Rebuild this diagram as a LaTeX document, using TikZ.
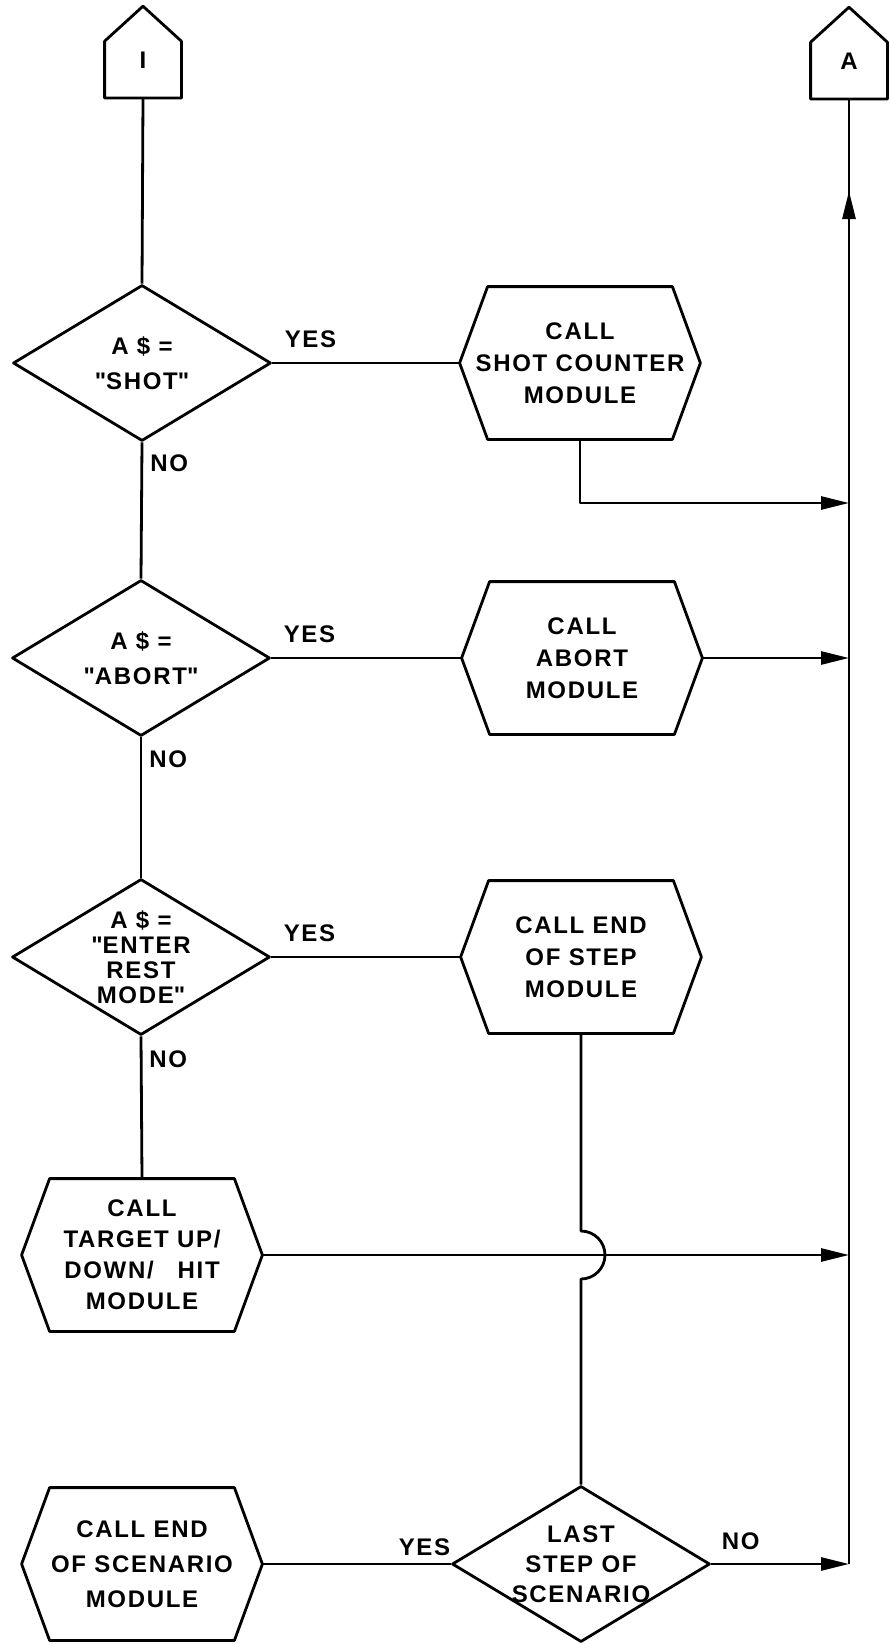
\documentclass[tikz,border=0pt]{standalone}
\usepackage{fontspec}
\setmainfont{Liberation Sans}[LetterSpace=7]
\usetikzlibrary{positioning}
\usetikzlibrary{shapes.geometric, arrows.meta}

% six-sided call box drawn round a plain node
\newcommand{\callframe}[1]{%
  \draw[flow] ([xshift=14pt]#1.north west) -- ([xshift=-14pt]#1.north east) -- (#1.east)
    -- ([xshift=-14pt]#1.south east) -- ([xshift=14pt]#1.south west) -- (#1.west) -- cycle;}
% house-shaped off-page connector
\newcommand{\connframe}[1]{%
  \draw[flow] (#1.south west) -- (#1.north west) -- ([yshift=17.5pt]#1.north)
    -- (#1.north east) -- (#1.south east) -- cycle;}
\newcommand{\qq}{\textquotedbl}

\begin{document}
\begin{tikzpicture}[x=0.5pt,y=-0.5pt,
  flow/.style={line width=1.4pt,line join=round},
  arr/.style={flow,-{Triangle[length=14pt,width=6.5pt]}},
  decision/.style={diamond,aspect=1.65,draw,flow,minimum width=129pt,minimum height=78pt,inner xsep=-3pt,inner ysep=0pt,align=center,font=\bfseries\fontsize{12}{17.5}\selectfont},
  callbox/.style={rectangle,minimum width=120pt,minimum height=76pt,inner sep=0pt,align=center,font=\bfseries\fontsize{12}{16}\selectfont},
  offpage/.style={rectangle,minimum width=38pt,minimum height=28pt,inner sep=0pt,text depth=9pt,font=\bfseries\fontsize{12}{14}\selectfont},
  lbl/.style={inner sep=0pt,font=\bfseries\fontsize{12}{14}\selectfont}]
\useasboundingbox (0,0) rectangle (889,1644);

% off-page connectors
\node[offpage,anchor=south] (conI) at (143,98) {I};
\connframe{conI}
\node[offpage,anchor=south] (conA) at (849,99) {A};
\connframe{conA}

% left column of tests
\node[decision] (d1) at (142,363) {A \$ =\\\qq SHOT\qq};
\node[decision] (d2) at (141,658) {A \$ =\\\qq ABORT\qq};
\node[decision,font=\bfseries\fontsize{12}{12.5}\selectfont] (d3) at (141,957) {A \$ =\\\qq ENTER\\REST\\MODE\qq};
\node[callbox,font=\bfseries\fontsize{12}{15.5}\selectfont] (h4) at (142,1255) {CALL\\TARGET UP/\\DOWN/\quad HIT\\MODULE};
\callframe{h4}

% call modules
\node[callbox] (h1) at (580,363) {CALL\\SHOT COUNTER\\MODULE};
\callframe{h1}
\node[callbox] (h2) at (582,658) {CALL\\ABORT\\MODULE};
\callframe{h2}
\node[callbox] (h3) at (581,957) {CALL END\\OF STEP\\MODULE};
\callframe{h3}

% bottom row
\node[decision,font=\bfseries\fontsize{12}{15}\selectfont] (d4) at (581,1564) {LAST\\STEP OF\\SCENARIO};
\node[callbox,font=\bfseries\fontsize{12}{17.5}\selectfont] (h5) at (142,1564) {CALL END\\OF SCENARIO\\MODULE};
\callframe{h5}

% branch labels
\node[lbl,above right=7.5pt and 6pt of d1.east] (y1) {YES};
\node[lbl,above right=7.5pt and 6pt of d2.east] (y2) {YES};
\node[lbl,above right=7.5pt and 6pt of d3.east] (y3) {YES};
\node[lbl,below right=6pt and 4pt of d1.south] (n1) {NO};
\node[lbl,below right=6.5pt and 4pt of d2.south] (n2) {NO};
\node[lbl,below right=7pt and 4pt of d3.south] (n3) {NO};
\node[lbl,above left=4pt and 0pt of d4.west] (y4) {YES};
\node[lbl,above right=7pt and 5pt of d4.east] (n4) {NO};

% flow lines
\draw[flow] (conI.south) -- (d1.north);
\draw[flow] (d1.east) -- (h1.west);
\draw[flow] (d1.south) -- (d2.north);
\draw[flow] (d2.east) -- (h2.west);
\draw[flow] (d2.south) -- (d3.north);
\draw[flow] (d3.east) -- (h3.west);
\draw[flow] (d3.south) -- (h4.north);
\draw[flow] (d4.west) -- (h5.east);

\coordinate (elbow) at (h1.south |- 0,503);
\draw[arr] (h1.south) -- (elbow) -- (conA.south |- elbow);
\draw[arr] (h2.east) -- (conA.south |- h2.east);
\draw[arr] (h4.east) -- (conA.south |- h4.east);
\draw[arr] (d4.east) -- (conA.south |- d4.east);

% return bus to A
\coordinate (busfoot) at (conA.south |- d4.east);
\coordinate (busup) at (conA.south |- 0,191);
\draw[flow] (busfoot) -- (conA.south);
\draw[arr] (busfoot) -- (busup);

% end of step line hops over the target line
\coordinate (hop) at (h3.south |- 0,1231);
\draw[flow] (h3.south) -- (hop) arc[start angle=-90,end angle=90,radius=24] -- (d4.north);

\end{tikzpicture}
\end{document}
